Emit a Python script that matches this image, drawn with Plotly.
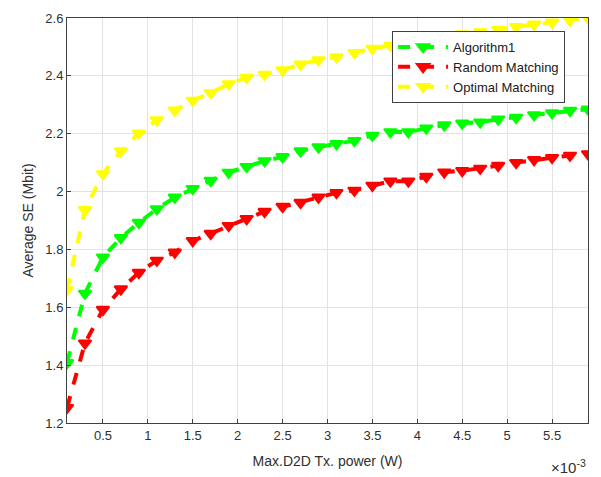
import plotly.graph_objects as go

x_power = [0.1, 0.3, 0.5, 0.7, 0.9, 1.1, 1.3, 1.5, 1.7, 1.9, 2.1, 2.3, 2.5, 2.7, 2.9,
           3.1, 3.3, 3.5, 3.7, 3.9, 4.1, 4.3, 4.5, 4.7, 4.9, 5.1, 5.3, 5.5, 5.7, 5.9]

algorithm1 = [1.408, 1.648, 1.773, 1.84, 1.893, 1.94, 1.98, 2.01, 2.038, 2.066, 2.086,
              2.106, 2.12, 2.14, 2.154, 2.165, 2.176, 2.194, 2.206, 2.206, 2.219, 2.23,
              2.236, 2.24, 2.25, 2.256, 2.265, 2.272, 2.28, 2.285]
random_matching = [1.253, 1.476, 1.592, 1.663, 1.72, 1.762, 1.79, 1.83, 1.855, 1.882, 1.906,
                   1.931, 1.948, 1.962, 1.98, 1.996, 2.004, 2.021, 2.036, 2.036, 2.052, 2.067,
                   2.072, 2.08, 2.09, 2.1, 2.11, 2.117, 2.125, 2.13]
optimal_matching = [1.66, 1.937, 2.061, 2.14, 2.202, 2.247, 2.281, 2.315, 2.341, 2.372, 2.394,
                    2.405, 2.42, 2.44, 2.455, 2.465, 2.48, 2.495, 2.505, 2.515, 2.525, 2.535,
                    2.545, 2.552, 2.56, 2.57, 2.578, 2.585, 2.592, 2.6]

x_ticks = [0.5, 1, 1.5, 2, 2.5, 3, 3.5, 4, 4.5, 5, 5.5]
x_ticktext = ["0.5", "1", "1.5", "2", "2.5", "3", "3.5", "4", "4.5", "5", "5.5"]
y_ticks = [1.2, 1.4, 1.6, 1.8, 2.0, 2.2, 2.4, 2.6]
y_ticktext = ["1.2", "1.4", "1.6", "1.8", "2", "2.2", "2.4", "2.6"]

series = [
    ("Algorithm1", algorithm1, "#00ff00"),
    ("Random Matching", random_matching, "#ff0000"),
    ("Optimal Matching", optimal_matching, "#ffff00"),
]

fig = go.Figure()
for name, ys, color in series:
    fig.add_trace(go.Scatter(
        x=x_power, y=ys, name=name, mode="lines+markers",
        line=dict(color=color, width=4, dash="dash"),
        marker=dict(symbol="triangle-down", size=11, color=color,
                    line=dict(color=color, width=2)),
    ))

axis_common = dict(
    showgrid=True, gridcolor="#e3e3e3", gridwidth=1,
    showline=True, linecolor="#404040", linewidth=1, mirror=True,
    ticks="inside", ticklen=4, tickcolor="#404040",
    tickfont=dict(family="Liberation Sans, Arial, sans-serif", size=13, color="#303030"),
    zeroline=False,
)

fig.update_layout(
    width=601, height=477,
    margin=dict(l=67, r=13, t=11, b=53),
    paper_bgcolor="white", plot_bgcolor="white",
    font=dict(family="Liberation Sans, Arial, sans-serif", size=13, color="#303030"),
    xaxis=dict(range=[0.1, 5.9], tickvals=x_ticks, ticktext=x_ticktext,
               title=dict(text="Max.D2D Tx. power (W)", standoff=14,
                          font=dict(size=14, color="#303030")),
               **axis_common),
    yaxis=dict(range=[1.2, 2.6], tickvals=y_ticks, ticktext=y_ticktext,
               title=dict(text="Average SE (Mbit)", standoff=8,
                          font=dict(size=14, color="#303030")),
               **axis_common),
    legend=dict(x=0.624, y=0.968, xanchor="left", yanchor="top",
                bgcolor="white", bordercolor="#404040", borderwidth=1,
                font=dict(size=13, color="#202020"),
                tracegroupgap=0, itemwidth=50),
    showlegend=True,
    annotations=[dict(text="×10<sup>-3</sup>", xref="paper", yref="paper",
                      x=1.0, y=-0.078, xanchor="right", yanchor="top",
                      showarrow=False, font=dict(size=15, color="#303030"))],
)

fig.write_html("out.html")
